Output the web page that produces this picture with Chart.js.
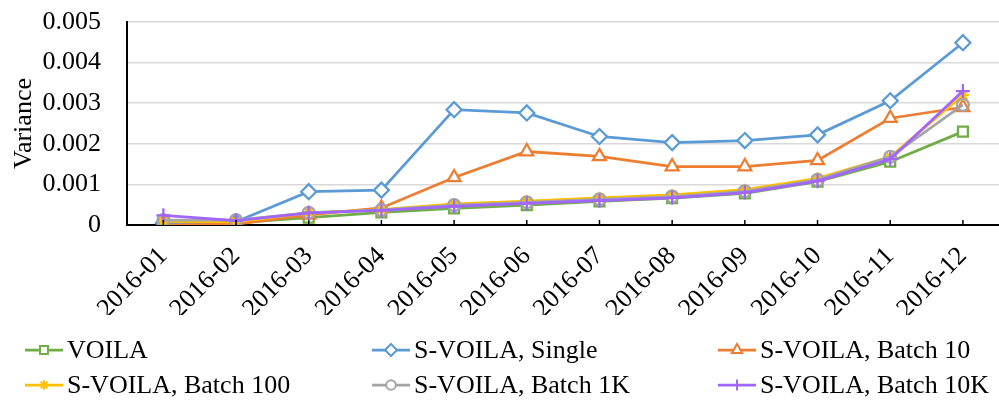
<!DOCTYPE html>
<html>
<head>
<meta charset="utf-8">
<script src="https://cdn.jsdelivr.net/npm/chart.js@4/dist/chart.umd.min.js"></script>
<style>
  body { margin: 0; background: #fff; overflow: hidden; }
</style>
</head>
<body>
<!-- a little wider than the window: chart.js keeps ~10px right padding for the rotated last label -->
<canvas id="variance" width="1009" height="400"></canvas>
<script>
// months on the x axis
var months = ['2016-01', '2016-02', '2016-03', '2016-04', '2016-05', '2016-06',
              '2016-07', '2016-08', '2016-09', '2016-10', '2016-11', '2016-12'];

// variance per month
var voila      = [0.00004, 0.00005, 0.00018, 0.00031, 0.00041, 0.00049, 0.00058, 0.00066, 0.00078, 0.00107, 0.00156, 0.00230];
var single     = [0.00005, 0.00008, 0.00082, 0.00086, 0.00284, 0.00276, 0.00218, 0.00203, 0.00208, 0.00222, 0.00306, 0.00449];
var batch10    = [0.00000, 0.00002, 0.00025, 0.00042, 0.00117, 0.00181, 0.00169, 0.00144, 0.00144, 0.00159, 0.00263, 0.00290];
var batch100   = [0.00009, 0.00008, 0.00030, 0.00038, 0.00052, 0.00059, 0.00067, 0.00074, 0.00087, 0.00115, 0.00168, 0.00320];
var batch1k    = [0.00012, 0.00012, 0.00030, 0.00037, 0.00049, 0.00056, 0.00063, 0.00070, 0.00083, 0.00111, 0.00168, 0.00296];
var batch10k   = [0.00024, 0.00011, 0.00030, 0.00036, 0.00046, 0.00053, 0.00060, 0.00067, 0.00080, 0.00108, 0.00162, 0.00330];

var yTicks = [0, 0.001, 0.002, 0.003, 0.004, 0.005];

var FONT = "'Liberation Serif', 'Times New Roman', serif";
var FSIZE = 26;

// one entry per series: label, data, colour, marker
var series = [
  { label: 'VOILA',                data: voila,    color: '#70ad47', style: 'rect',    r: 7,   fill: '#fff' },
  { label: 'S-VOILA, Single',      data: single,   color: '#5b9bd5', style: 'rectRot', r: 7.5, fill: '#fff' },
  { label: 'S-VOILA, Batch 10',    data: batch10,  color: '#ed7d31', style: 'triangle',r: 7.5, fill: '#fff' },
  { label: 'S-VOILA, Batch 100',   data: batch100, color: '#ffc000', style: 'star',    r: 6,   fill: '#ffc000' },
  { label: 'S-VOILA, Batch 1K',    data: batch1k,  color: '#a5a5a5', style: 'circle',  r: 6,   fill: 'rgba(255,255,255,0)' },
  { label: 'S-VOILA, Batch 10K',   data: batch10k, color: '#a066ff', style: 'cross',   r: 7,   fill: '#a066ff' }
];

var datasets = series.map(function(s, i) {
  return {
    label: s.label,
    data: s.data,
    borderColor: s.color,
    backgroundColor: s.fill,
    borderWidth: 2.75,
    pointStyle: s.style,
    pointRadius: s.r,
    pointBorderWidth: 2.25,
    pointBorderColor: s.color,
    pointBackgroundColor: s.fill,
    fill: false,
    tension: 0,
    order: series.length - i   // later series on top, as in the original
  };
});

// small tick marks pointing up from the x axis
var innerTicks = {
  id: 'innerTicks',
  afterDatasetsDraw: function(chart) {
    var x = chart.scales.x, ctx = chart.ctx;
    var y0 = chart.chartArea.bottom;
    ctx.save();
    ctx.strokeStyle = '#000';
    ctx.lineWidth = 1.5;
    for (var i = 0; i < months.length; i++) {
      var px = x.getPixelForTick(i);
      ctx.beginPath();
      ctx.moveTo(px, y0);
      ctx.lineTo(px, y0 - 5);
      ctx.stroke();
    }
    ctx.restore();
  }
};

// legend laid out as a 3 column grid like the original
var gridLegend = {
  id: 'gridLegend',
  afterDraw: function(chart) {
    var ctx = chart.ctx;
    var cols = [25, 372, 718], rows = [350, 385];
    ctx.save();
    ctx.font = FSIZE + 'px ' + FONT;
    ctx.textBaseline = 'middle';
    ctx.textAlign = 'left';
    series.forEach(function(s, i) {
      var x = cols[i % 3], y = rows[Math.floor(i / 3)];
      ctx.strokeStyle = s.color;
      ctx.lineWidth = 2.75;
      ctx.beginPath();
      ctx.moveTo(x, y);
      ctx.lineTo(x + 38, y);
      ctx.stroke();
      ctx.fillStyle = s.fill === 'rgba(255,255,255,0)' ? '#fff' : s.fill;
      ctx.lineWidth = 2;
      Chart.helpers.drawPoint(ctx, { pointStyle: s.style, radius: s.r * 0.8, rotation: 0, borderWidth: 2 }, x + 19, y);
      ctx.fillStyle = '#000';
      ctx.fillText(s.label, x + 42, y + 1);
    });
    ctx.restore();
  }
};

Chart.defaults.font.family = FONT;
Chart.defaults.font.size = FSIZE;
Chart.defaults.color = '#000';

var chart = new Chart('variance', {
  type: 'line',
  data: { labels: months, datasets: datasets },
  plugins: [innerTicks, gridLegend],
  options: {
    responsive: false,
    animation: false,
    devicePixelRatio: 1,
    layout: { padding: { top: 22, bottom: 85, left: 0, right: 0 } },
    plugins: {
      legend: { display: false },
      tooltip: { enabled: false }
    },
    scales: {
      x: {
        offset: true,
        grid: { display: false },
        border: { display: true, color: '#000', width: 2 },
        ticks: {
          maxRotation: 45,
          minRotation: 45,
          autoSkip: false,
          padding: 8,
          font: { size: FSIZE }
        },
        afterFit: function(scale) {
          scale.height = 90;
          scale.paddingLeft = 0;
          scale.paddingRight = 0;
        }
      },
      y: {
        min: 0,
        max: 0.005,
        afterBuildTicks: function(scale) {
          scale.ticks = yTicks.map(function(v) { return { value: v }; });
        },
        grid: { color: '#d9d9d9', lineWidth: 1.5, drawTicks: false },
        border: { display: true, color: '#000', width: 2 },
        ticks: {
          padding: 26,
          font: { size: FSIZE },
          callback: function(v) { return v === 0 ? '0' : v.toFixed(3); }
        },
        title: {
          display: true,
          text: 'Variance',
          font: { size: FSIZE },
          padding: { top: 9, bottom: 0 }
        },
        afterFit: function(scale) {
          scale.width = 127;
          scale.paddingTop = 0;
          scale.paddingBottom = 0;
        }
      }
    }
  }
});
</script>
</body>
</html>
